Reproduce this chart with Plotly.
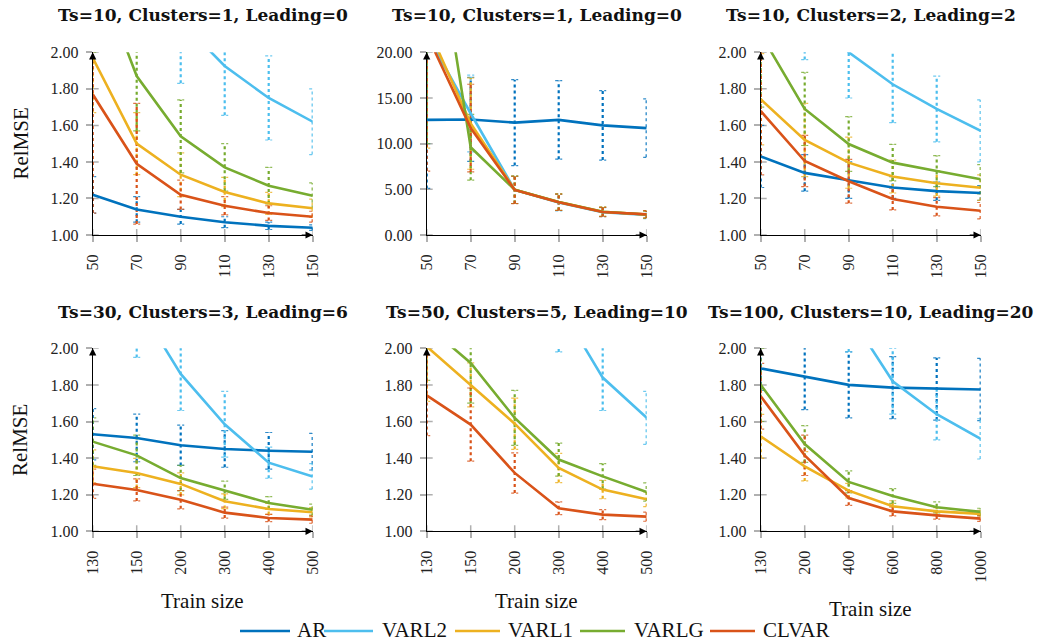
import plotly.graph_objects as go

W, H = 1044, 644

titles = ["Ts=10, Clusters=1, Leading=0", "Ts=10, Clusters=1, Leading=0", "Ts=10, Clusters=2, Leading=2",
          "Ts=30, Clusters=3, Leading=6", "Ts=50, Clusters=5, Leading=10", "Ts=100, Clusters=10, Leading=20"]
train_sizes = [
    [50, 70, 90, 110, 130, 150],
    [50, 70, 90, 110, 130, 150],
    [50, 70, 90, 110, 130, 150],
    [130, 150, 200, 300, 400, 500],
    [130, 150, 200, 300, 400, 500],
    [130, 200, 400, 600, 800, 1000],
]
series_names = ["AR", "VARL2", "VARL1", "VARLG", "CLVAR"]
colors = ["#0072BD", "#4DBEEE", "#EDB120", "#77AC30", "#D95319"]

AR = [
    [1.22, 1.14, 1.10, 1.07, 1.05, 1.04],
    [12.6, 12.65, 12.3, 12.6, 12.0, 11.7],
    [1.43, 1.34, 1.30, 1.26, 1.24, 1.23],
    [1.53, 1.51, 1.47, 1.45, 1.44, 1.435],
    [2.42, 2.40, 2.37, 2.35, 2.33, 2.32],
    [1.89, 1.845, 1.80, 1.785, 1.778, 1.775],
]
AR_err = [
    [0.10, 0.07, 0.04, 0.03, 0.02, 0.015],
    [7.5, 4.6, 4.7, 4.3, 3.8, 3.2],
    [0.17, 0.10, 0.10, 0.06, 0.05, 0.04],
    [0.14, 0.13, 0.11, 0.10, 0.10, 0.10],
    [0.2, 0.2, 0.2, 0.2, 0.2, 0.2],
    [0.12, 0.18, 0.18, 0.17, 0.17, 0.17],
]
VARL2 = [
    [3.3, 2.6, 2.17, 1.925, 1.75, 1.62],
    [22.0, 13.3, 4.95, 3.55, 2.5, 2.2],
    [2.8, 2.3, 2.0, 1.825, 1.69, 1.57],
    [2.6, 2.25, 1.86, 1.585, 1.375, 1.30],
    [3.0, 2.8, 2.6, 2.24, 1.84, 1.62],
    [2.9, 2.5, 2.19, 1.82, 1.64, 1.505],
]
VARL2_err = [
    [0.6, 0.45, 0.34, 0.27, 0.23, 0.18],
    [12.0, 4.2, 1.5, 0.9, 0.5, 0.4],
    [0.5, 0.34, 0.25, 0.21, 0.18, 0.17],
    [0.4, 0.3, 0.2, 0.18, 0.085, 0.07],
    [0.4, 0.35, 0.3, 0.26, 0.18, 0.145],
    [0.4, 0.3, 0.21, 0.18, 0.14, 0.11],
]
VARL1 = [
    [1.97, 1.50, 1.33, 1.235, 1.173, 1.146],
    [23.0, 12.2, 4.95, 3.6, 2.55, 2.25],
    [1.743, 1.52, 1.396, 1.32, 1.283, 1.259],
    [1.355, 1.319, 1.259, 1.164, 1.122, 1.104],
    [2.01, 1.80, 1.588, 1.346, 1.228, 1.175],
    [1.519, 1.355, 1.222, 1.137, 1.109, 1.095],
]
VARL1_err = [
    [0.30, 0.17, 0.12, 0.08, 0.06, 0.05],
    [13.5, 5.0, 1.5, 0.9, 0.5, 0.4],
    [0.25, 0.2, 0.14, 0.09, 0.07, 0.07],
    [0.09, 0.08, 0.06, 0.04, 0.03, 0.025],
    [0.3, 0.12, 0.14, 0.08, 0.05, 0.04],
    [0.12, 0.08, 0.04, 0.03, 0.02, 0.02],
]
VARLG = [
    [2.5, 1.87, 1.54, 1.37, 1.27, 1.215],
    [40.0, 9.6, 4.95, 3.6, 2.55, 2.25],
    [2.1, 1.69, 1.498, 1.396, 1.35, 1.305],
    [1.49, 1.415, 1.291, 1.224, 1.155, 1.118],
    [2.125, 1.92, 1.62, 1.392, 1.30, 1.215],
    [1.80, 1.477, 1.27, 1.193, 1.131, 1.106],
]
VARLG_err = [
    [0.5, 0.3, 0.2, 0.13, 0.1, 0.07],
    [30.0, 3.6, 1.5, 0.9, 0.5, 0.4],
    [0.4, 0.2, 0.15, 0.1, 0.085, 0.08],
    [0.13, 0.11, 0.07, 0.05, 0.035, 0.03],
    [0.3, 0.22, 0.15, 0.09, 0.07, 0.05],
    [0.2, 0.1, 0.06, 0.04, 0.03, 0.02],
]
CLVAR = [
    [1.77, 1.39, 1.22, 1.16, 1.12, 1.10],
    [22.0, 11.7, 4.93, 3.58, 2.52, 2.26],
    [1.679, 1.405, 1.294, 1.197, 1.155, 1.133],
    [1.26, 1.226, 1.173, 1.102, 1.073, 1.064],
    [1.743, 1.583, 1.319, 1.126, 1.091, 1.08],
    [1.738, 1.415, 1.182, 1.109, 1.087, 1.069],
]
CLVAR_err = [
    [0.65, 0.33, 0.08, 0.05, 0.04, 0.03],
    [15.0, 4.8, 1.5, 0.9, 0.5, 0.4],
    [0.35, 0.14, 0.12, 0.06, 0.05, 0.045],
    [0.08, 0.06, 0.05, 0.03, 0.02, 0.02],
    [0.22, 0.2, 0.11, 0.035, 0.027, 0.025],
    [0.18, 0.11, 0.04, 0.025, 0.02, 0.015],
]
y_ranges = [[1, 2], [0, 20], [1, 2], [1, 2], [1, 2], [1, 2]]
y_ticks = [[1.0, 1.2, 1.4, 1.6, 1.8, 2.0], [0, 5, 10, 15, 20]] + [[1.0, 1.2, 1.4, 1.6, 1.8, 2.0]] * 4

values = [AR, VARL2, VARL1, VARLG, CLVAR]
errors = [AR_err, VARL2_err, VARL1_err, VARLG_err, CLVAR_err]

FONT = "'Liberation Serif', 'Times New Roman', serif"
TFONT = "'DejaVu Serif', serif"
TICKCOL = "#b0b0b0"

# layout geometry (pixels)
col_px = [(92.7, 312.7), (426.7, 646.7), (760.7, 980.7)]
row_px = [(52.3, 235.0), (348.3, 531.3)]

fig = go.Figure()
annotations = []
shapes = []
layout_axes = {}

for p in range(6):
    r, c = divmod(p, 3)
    k = "" if p == 0 else str(p + 1)
    xa, ya = "x" + k, "y" + k
    x0, x1 = col_px[c]
    ytop, ybot = row_px[r]
    xdom = [x0 / W, x1 / W]
    ydom = [1 - ybot / H, 1 - ytop / H]
    idx = list(range(len(train_sizes[p])))
    ticktext = [str(t) for t in train_sizes[p]]
    ymin, ymax = y_ranges[p]

    layout_axes["xaxis" + k] = dict(
        domain=xdom, anchor=ya, range=[0, len(idx) - 1], tickvals=idx, ticktext=ticktext,
        tickangle=-90, showgrid=False, zeroline=False, showline=True, linecolor="black", linewidth=1,
        ticks="outside", ticklen=6, tickcolor=TICKCOL, tickwidth=1.5, automargin=False,
        tickfont=dict(family=FONT, size=16, color="#222"), ticklabelstandoff=6,
    )
    layout_axes["yaxis" + k] = dict(
        domain=ydom, anchor=xa, range=y_ranges[p], tickvals=y_ticks[p], tickformat=".2f",
        showgrid=False, zeroline=False, showline=True, linecolor="black", linewidth=1,
        ticks="outside", ticklen=6, tickcolor=TICKCOL, tickwidth=1.5, automargin=False,
        tickfont=dict(family=FONT, size=16, color="#222"), ticklabelstandoff=4,
    )

    # inner halves of the crossing tick marks
    for xi in idx:
        shapes.append(dict(type="line", xref=xa, yref=ya, x0=xi, x1=xi, ysizemode="pixel",
                           yanchor=ymin, y0=0, y1=6, line=dict(color=TICKCOL, width=1.5), layer="below"))
    for yt in y_ticks[p]:
        shapes.append(dict(type="line", xref=xa, yref=ya, y0=yt, y1=yt, xsizemode="pixel",
                           xanchor=0, x0=0, x1=6, line=dict(color=TICKCOL, width=1.5), layer="below"))

    for s in range(5):
        v = values[s][p]
        e = errors[s][p]
        ex, ey, cx, cy = [], [], [], []
        for xi, vi, ei in zip(idx, v, e):
            ex += [xi, xi, None]
            ey += [vi - ei, vi + ei, None]
            for yy in (vi - ei, vi + ei):
                cx += [xi - 0.08, xi + 0.08, None]
                cy += [yy, yy, None]
        fig.add_trace(go.Scatter(x=ex, y=ey, xaxis=xa, yaxis=ya, mode="lines",
                                 line=dict(color=colors[s], width=2.2, dash="dot"),
                                 showlegend=False, hoverinfo="skip"))
        fig.add_trace(go.Scatter(x=cx, y=cy, xaxis=xa, yaxis=ya, mode="lines",
                                 line=dict(color=colors[s], width=1.2, dash="3px,2px"),
                                 opacity=0.8, showlegend=False, hoverinfo="skip"))
    for s in range(5):
        fig.add_trace(go.Scatter(x=idx, y=values[s][p], xaxis=xa, yaxis=ya, mode="lines",
                                 line=dict(color=colors[s], width=2.6), name=series_names[s],
                                 showlegend=False))

    # axis arrowheads
    annotations.append(dict(xref=xa, yref=ya, x=len(idx) - 1, y=ymin, ax=-14, ay=0,
                            showarrow=True, arrowhead=2, arrowsize=1.2, arrowwidth=1.2,
                            arrowcolor="black", text=" ", standoff=0, startstandoff=0))
    annotations.append(dict(xref=xa, yref=ya, x=0, y=ymax, ax=0, ay=14,
                            showarrow=True, arrowhead=2, arrowsize=1.2, arrowwidth=1.2,
                            arrowcolor="black", text=" ", standoff=0, startstandoff=0))

    annotations.append(dict(xref="paper", yref="paper", x=(xdom[0] + xdom[1]) / 2,
                            y=1 - (15 if r == 0 else 312) / H, text="<b>" + titles[p] + "</b>",
                            showarrow=False, font=dict(family=TFONT, size=17, color="#111"),
                            xanchor="center", yanchor="middle"))
    if c == 0:
        annotations.append(dict(xref="paper", yref="paper", x=20 / W,
                                y=1 - (143.5 if r == 0 else 440) / H, text="RelMSE", textangle=-90,
                                showarrow=False, font=dict(family=FONT, size=21, color="#111"),
                                xanchor="center", yanchor="middle"))
    if r == 1:
        ty = 609 if c == 2 else 601
        annotations.append(dict(xref="paper", yref="paper", x=(xdom[0] + xdom[1]) / 2,
                                y=1 - ty / H, text="Train size", showarrow=False,
                                font=dict(family=FONT, size=21, color="#111"),
                                xanchor="center", yanchor="middle"))

# manual legend
leg_y = 631
leg_items = [(240, 290, 295), (324, 373, 380), (455, 500, 506), (580, 625, 632), (710, 755, 761)]
for s, (lx0, lx1, tx) in enumerate(leg_items):
    shapes.append(dict(type="line", xref="paper", yref="paper", x0=lx0 / W, x1=lx1 / W,
                       y0=1 - leg_y / H, y1=1 - leg_y / H, line=dict(color=colors[s], width=2.6)))
    annotations.append(dict(xref="paper", yref="paper", x=tx / W, y=1 - (leg_y - 1) / H,
                            text=series_names[s], showarrow=False, xanchor="left", yanchor="middle",
                            font=dict(family=FONT, size=21, color="#111")))

fig.update_layout(
    width=W, height=H, margin=dict(l=0, r=0, t=0, b=0),
    paper_bgcolor="white", plot_bgcolor="white",
    annotations=annotations, shapes=shapes, showlegend=False,
    **layout_axes,
)
fig.write_html("out.html")
